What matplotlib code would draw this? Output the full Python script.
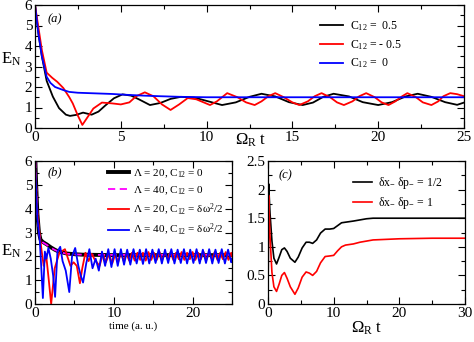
import matplotlib
matplotlib.use("Agg")
import matplotlib.pyplot as plt
from matplotlib.ticker import MultipleLocator, FuncFormatter

plt.rcParams['font.family'] = ['Liberation Serif', 'DejaVu Serif']
plt.rcParams['mathtext.fontset'] = 'custom'
plt.rcParams['mathtext.rm'] = 'Liberation Serif'
plt.rcParams['mathtext.it'] = 'Liberation Serif:italic'

# ---------------- panel (a) data ----------------
ta_black = [0, 0.2, 0.4, 0.68, 1.04, 1.4, 1.8, 2.04, 2.4, 2.8, 3.3, 3.7, 4.1, 4.6, 5.1, 5.6, 6.1, 6.7,
            7.3, 7.9, 8.5, 9.3, 10.1, 10.9, 11.7, 12.5, 13.2, 14.0, 14.8, 15.6, 16.2, 16.8, 17.4,
            18.3, 19.1, 20.0, 20.8, 21.6, 22.3, 23.1, 23.9, 24.6, 25.0]
Ea_black = [6.0, 4.6, 3.5, 2.3, 1.53, 0.97, 0.65, 0.59, 0.64, 0.75, 0.65, 0.8, 1.1, 1.45, 1.64, 1.58, 1.38, 1.12,
            1.22, 1.42, 1.52, 1.48, 1.3, 1.12, 1.25, 1.52, 1.67, 1.54, 1.26, 1.12, 1.24, 1.52, 1.67,
            1.54, 1.26, 1.12, 1.26, 1.54, 1.67, 1.52, 1.26, 1.13, 1.24]

ta_red = [0, 0.2, 0.4, 0.68, 1.0, 1.3, 1.65, 2.0, 2.2, 2.5, 2.76, 3.0, 3.4, 3.9, 4.5, 5.0, 5.5, 5.9, 6.4,
          6.9, 7.4, 7.9, 8.4, 8.9, 9.4, 10.2, 10.6, 11.2, 11.8, 12.3, 12.8, 13.2, 13.6, 14.0,
          14.5, 15.0, 15.4, 15.9, 16.3, 16.7, 17.2, 17.6, 18.0, 18.5, 18.9, 19.3, 19.8, 20.2, 20.6,
          21.0, 21.4, 21.7, 22.2, 22.6, 23.1, 23.5, 23.8, 24.2, 24.6, 25.0]
Ea_red = [6.0, 4.9, 3.8, 2.7, 2.45, 2.25, 1.95, 1.5, 1.2, 0.6, 0.15, 0.45, 0.95, 1.24, 1.2, 1.15, 1.25, 1.55, 1.74,
          1.55, 1.15, 0.88, 1.15, 1.46, 1.4, 1.12, 1.3, 1.7, 1.5, 1.25, 1.12, 1.3, 1.55, 1.7,
          1.5, 1.25, 1.12, 1.3, 1.55, 1.7, 1.5, 1.25, 1.12, 1.3, 1.55, 1.7, 1.5, 1.25, 1.12,
          1.3, 1.55, 1.7, 1.5, 1.25, 1.12, 1.3, 1.55, 1.7, 1.65, 1.55]

ta_blue = [0, 0.2, 0.4, 0.68, 0.9, 1.17, 1.65, 2.0, 2.5, 3.5, 4.5, 5.3, 6.3, 7.3, 8.5, 10, 15, 20, 25]
Ea_blue = [6.0, 4.6, 3.5, 2.5, 2.2, 2.0, 1.85, 1.76, 1.72, 1.69, 1.66, 1.62, 1.58, 1.55, 1.52, 1.5, 1.5, 1.5, 1.5]

labels_a = [r"C$_{12}$ =  0.5", r"C$_{12}$ = - 0.5", r"C$_{12}$ =  0"]

# ---------------- panel (b) data ----------------
tb_black = [0, 0.15, 0.3, 0.5, 0.7, 1.0, 1.5, 2.0, 2.5, 3.0, 4.0, 5.0, 6.0, 8.0, 10, 15, 20, 25]
Eb_black = [6.5, 5.0, 3.8, 3.0, 2.7, 2.6, 2.5, 2.38, 2.28, 2.2, 2.12, 2.09, 2.07, 2.06, 2.05, 2.05, 2.05, 2.05]
Eb_magenta = [6.5, 5.0, 3.8, 3.0, 2.68, 2.58, 2.48, 2.36, 2.27, 2.19, 2.11, 2.08, 2.07, 2.06, 2.06, 2.06, 2.06, 2.06]

tb_red = [0, 0.3, 0.6, 0.85, 1.1, 1.4, 1.75, 2.05, 2.5, 3.1, 3.8, 4.2, 4.5, 4.9, 5.3, 5.7, 6.0, 6.4,
          6.8, 7.2, 7.6, 8.2, 8.6, 9.0, 9.4, 9.8, 10.2, 10.55, 10.9, 11.25, 11.6, 11.95, 12.3,
          12.65, 13.0, 13.35, 13.7, 14.05, 14.4, 14.75, 15.1, 15.45, 15.8, 16.15, 16.5, 16.85,
          17.2, 17.55, 17.9, 18.25, 18.6, 18.95, 19.3, 19.65, 20.0, 20.35, 20.7, 21.05, 21.4,
          21.75, 22.1, 22.45, 22.8, 23.15, 23.5, 23.85, 24.2, 24.55, 24.9, 25.0]
Eb_red = [6.0, 3.8, 2.9, 2.2, 1.6, 2.1, 1.0, 0.0, 1.5, 2.15, 2.3, 1.9, 1.6, 1.75, 1.6, 0.87, 1.5, 2.15,
          1.8, 2.1, 1.85, 1.6, 2.1, 1.75, 2.1, 1.7, 2.1, 1.75, 2.15, 1.8, 2.12, 1.82, 2.15,
          1.82, 2.15, 1.85, 2.15, 1.82, 2.18, 1.85, 2.15, 1.85, 2.18, 1.85, 2.15, 1.88,
          2.18, 1.85, 2.15, 1.88, 2.18, 1.85, 2.15, 1.88, 2.18, 1.85, 2.15, 1.88, 2.18,
          1.85, 2.15, 1.88, 2.18, 1.85, 2.15, 1.88, 2.18, 1.85, 2.15, 2.0]

tb_blue = [0, 0.3, 0.6, 0.8, 1.0, 1.25, 1.45, 1.7, 2.0, 2.3, 2.55, 2.85, 3.2, 3.5, 3.9, 4.35, 4.7, 5.1,
           5.5, 5.8, 6.1, 6.5, 6.9, 7.3, 7.7, 8.1, 8.5, 8.9, 9.3, 9.7, 10.1, 10.5, 10.9, 11.3, 11.7,
           12.1, 12.5, 12.9, 13.3, 13.7, 14.1, 14.5, 14.9, 15.3, 15.7, 16.1, 16.5, 16.9, 17.3, 17.7,
           18.1, 18.5, 18.9, 19.3, 19.7, 20.1, 20.5, 20.9, 21.3, 21.7, 22.1, 22.5, 22.9, 23.3, 23.7,
           24.1, 24.5, 24.9, 25.0]
Eb_blue = [6.0, 3.6, 2.7, 1.5, 0.25, 2.2, 1.9, 2.35, 1.9, 1.2, 0.3, 2.2, 2.4, 1.8, 1.4, 0.5, 2.0, 2.35,
           1.6, 1.2, 0.9, 1.7, 2.3, 1.5, 1.9, 1.4, 2.2, 1.6, 2.3, 1.55, 2.3, 1.6, 2.3, 1.65, 2.28,
           1.65, 2.3, 1.7, 2.28, 1.68, 2.3, 1.7, 2.28, 1.72, 2.3, 1.7, 2.28, 1.72, 2.3, 1.7,
           2.28, 1.72, 2.3, 1.7, 2.28, 1.72, 2.3, 1.7, 2.28, 1.72, 2.3, 1.7, 2.28, 1.72, 2.3,
           1.7, 2.28, 1.75, 1.9]

labels_b = [r"Λ = 20, C$_{12}$ = 0", r"Λ = 40, C$_{12}$ = 0",
            r"Λ = 20, C$_{12}$ = δω$^2$/2", r"Λ = 40, C$_{12}$ = δω$^2$/2"]

# ---------------- panel (c) data ----------------
tc = [0, 0.1, 0.3, 0.6, 0.9, 1.3, 1.7, 2.1, 2.5, 2.9, 3.4, 4.1, 4.6, 5.2, 5.8, 6.3, 6.8, 7.4, 8.0,
      8.7, 9.4, 10.0, 10.6, 11.2, 11.8, 12.4, 13.0, 14.0, 15.0, 16.0, 18, 20, 25, 30]
Ec_black = [0, 2.1, 1.6, 1.1, 0.8, 0.7, 0.82, 0.95, 0.98, 0.92, 0.8, 0.73, 0.82, 0.98, 1.08, 1.08, 1.06, 1.12, 1.24,
            1.31, 1.31, 1.32, 1.37, 1.42, 1.43, 1.44, 1.45, 1.47, 1.49, 1.5, 1.5, 1.5, 1.5, 1.5]
Ec_red = [0, 1.9, 1.2, 0.55, 0.3, 0.22, 0.35, 0.5, 0.55, 0.45, 0.3, 0.17, 0.28, 0.47, 0.56, 0.54, 0.5, 0.57, 0.72,
          0.83, 0.84, 0.85, 0.93, 1.0, 1.03, 1.04, 1.05, 1.08, 1.1, 1.12, 1.13, 1.14, 1.15, 1.15]
labels_c = [r"δx$_{-}$ δp$_{-}$ = 1/2", r"δx$_{-}$ δp$_{-}$ = 1"]

# ---------------- figure ----------------
fig = plt.figure(figsize=(4.74, 3.42), dpi=100)
W, H = 474.0, 342.0

def axpos(l, r, t, b):
    return [l / W, 1 - b / H, (r - l) / W, (b - t) / H]

axa = fig.add_axes(axpos(35, 464, 5, 128))
axb = fig.add_axes(axpos(35, 232, 161, 304))
axc = fig.add_axes(axpos(268, 465, 161, 304))

fmt = FuncFormatter(lambda v, p: "%g" % v)

def style(ax, xmaj, xmin, ymaj, ymin):
    ax.xaxis.set_major_locator(MultipleLocator(xmaj))
    ax.xaxis.set_minor_locator(MultipleLocator(xmin))
    ax.yaxis.set_major_locator(MultipleLocator(ymaj))
    ax.yaxis.set_minor_locator(MultipleLocator(ymin))
    ax.xaxis.set_major_formatter(fmt)
    ax.yaxis.set_major_formatter(fmt)
    ax.tick_params(which='both', direction='in', top=True, right=True, labelsize=11, pad=2)
    ax.tick_params(which='major', length=5, width=0.8)
    ax.tick_params(which='minor', length=3, width=0.8)
    for s in ax.spines.values():
        s.set_linewidth(0.9)

# panel (a)
axa.plot(ta_black, Ea_black, color='black', lw=1.3, label=labels_a[0])
axa.plot(ta_red, Ea_red, color='red', lw=1.3, label=labels_a[1])
axa.plot(ta_blue, Ea_blue, color='blue', lw=1.3, label=labels_a[2])
axa.set_xlim(0, 25)
axa.set_ylim(0, 6)
style(axa, 5, 2.5, 1, 0.5)
axa.text(0.03, 0.86, "(a)", transform=axa.transAxes, fontsize=9, style='italic')
fig.text(1 / W, 1 - 59 / H, r"E$_{\rm N}$", fontsize=12, ha='left', va='center')
axa.text(0.466, -0.03, r"Ω$_{\rm R}$ t", transform=axa.transAxes, fontsize=12, ha='left', va='top')
axa.legend(loc='upper left', bbox_to_anchor=(0.665, 0.885), frameon=False, fontsize=8.5,
           handlelength=1.9, handletextpad=0.6, labelspacing=0.42, borderpad=0, borderaxespad=0)

# panel (b)
axb.plot(tb_black, Eb_black, color='black', lw=2.8, label=labels_b[0])
axb.plot(tb_black, Eb_magenta, color='magenta', lw=1.3, ls=(0, (4, 2.5)), label=labels_b[1])
axb.plot(tb_red, Eb_red, color='red', lw=1.3, label=labels_b[2])
axb.plot(tb_blue, Eb_blue, color='blue', lw=1.3, label=labels_b[3])
axb.set_xlim(0, 25)
axb.set_ylim(0, 6)
style(axb, 10, 5, 1, 0.5)
axb.text(0.065, 0.9, "(b)", transform=axb.transAxes, fontsize=9, style='italic')
fig.text(1 / W, 1 - 251 / H, r"E$_{\rm N}$", fontsize=12, ha='left', va='center')
axb.set_xlabel("time (a. u.)", fontsize=8, labelpad=1)
axb.legend(loc='upper left', bbox_to_anchor=(0.37, 0.955), frameon=False, fontsize=8,
           handlelength=1.9, handletextpad=0.4, labelspacing=0.42, borderpad=0, borderaxespad=0)

# panel (c)
axc.plot(tc, Ec_black, color='black', lw=1.2, label=labels_c[0])
axc.plot(tc, Ec_red, color='red', lw=1.2, label=labels_c[1])
axc.set_xlim(0, 30)
axc.set_ylim(0, 2.5)
style(axc, 10, 5, 0.5, 0.25)
axc.text(0.055, 0.88, "(c)", transform=axc.transAxes, fontsize=9, style='italic')
axc.set_xlabel(r"Ω$_{\rm R}$ t", fontsize=12, labelpad=0)
axc.legend(loc='upper left', bbox_to_anchor=(0.43, 0.9), frameon=False, fontsize=8.5,
           handlelength=1.6, handletextpad=0.5, labelspacing=0.3, borderpad=0, borderaxespad=0)

fig.savefig("out.png", dpi=100)
